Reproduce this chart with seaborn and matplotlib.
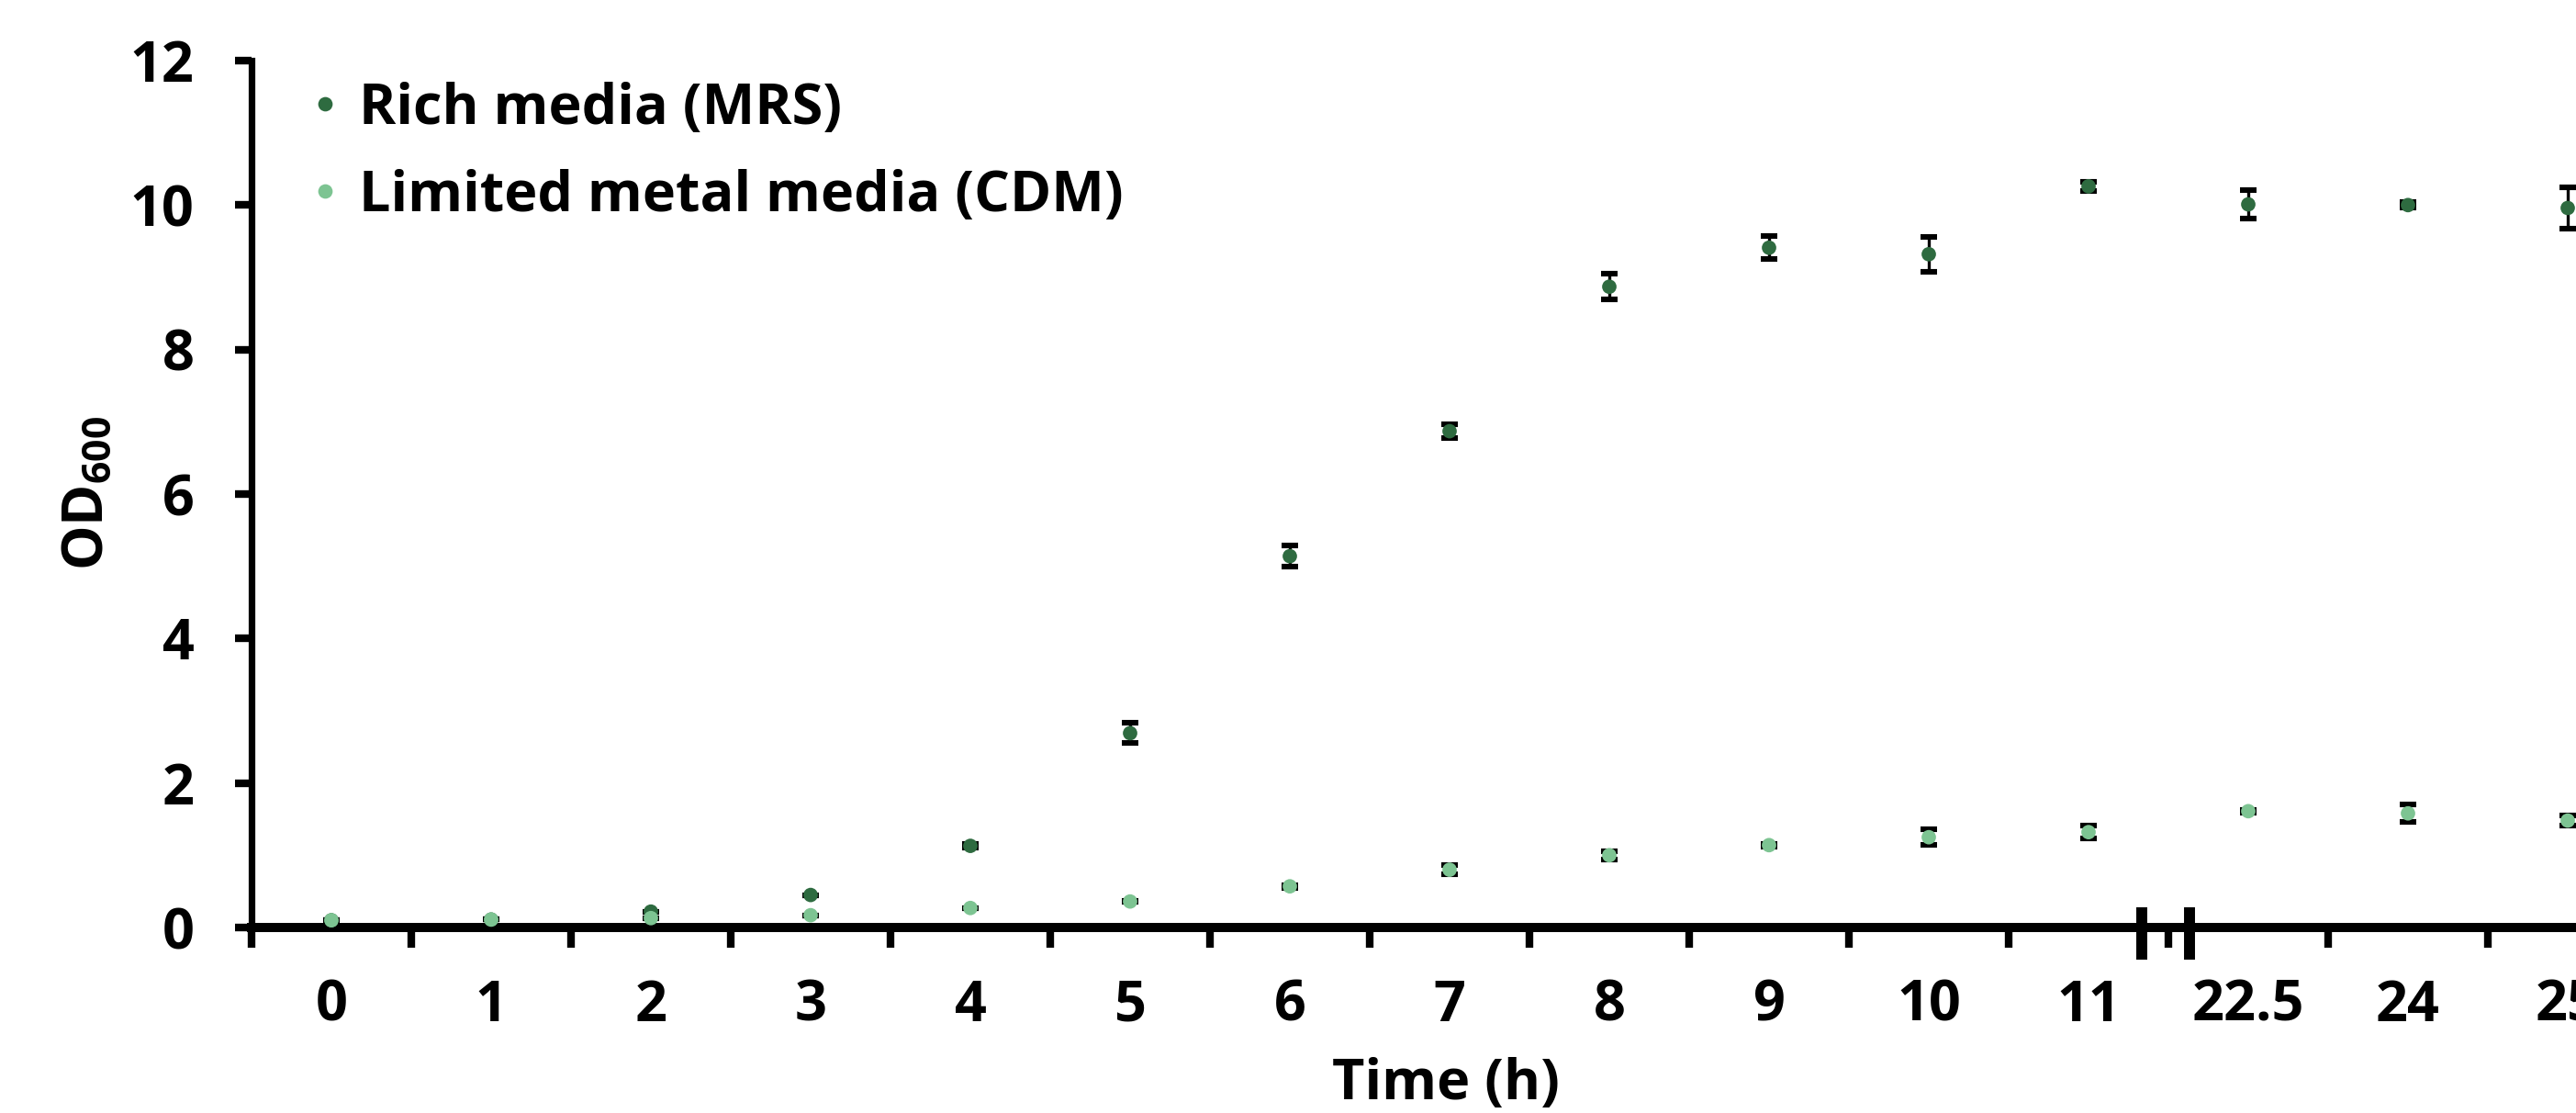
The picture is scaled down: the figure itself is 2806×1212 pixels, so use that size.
import numpy as np
import pandas as pd
import matplotlib
matplotlib.use("Agg")
import matplotlib.pyplot as plt
import matplotlib.transforms as mtransforms
import seaborn as sns

# ---------------- data ----------------
time_labels = ["0", "1", "2", "3", "4", "5", "6", "7", "8", "9", "10", "11", "22.5", "24", "25"]
mrs_mean = [0.10, 0.11, 0.22, 0.45, 1.13, 2.69, 5.14, 6.87, 8.87, 9.41, 9.32, 10.26, 10.01, 10.00, 9.96]
mrs_err = [0.0, 0.0, 0.0, 0.0, 0.03, 0.14, 0.15, 0.10, 0.18, 0.16, 0.24, 0.06, 0.20, 0.04, 0.28]
cdm_mean = [0.10, 0.11, 0.13, 0.17, 0.27, 0.36, 0.57, 0.80, 1.00, 1.14, 1.25, 1.32, 1.61, 1.58, 1.48]
cdm_err = [0.0, 0.0, 0.0, 0.0, 0.0, 0.01, 0.02, 0.06, 0.06, 0.02, 0.11, 0.09, 0.02, 0.12, 0.07]
series_names = ["Rich media (MRS)", "Limited metal media (CDM)"]
series_colors = ["#2e6b40", "#7dc492"]

# ---------------- style ----------------
sns.set_theme(style="white")
plt.rcParams["font.family"] = ["Open Sans", "DejaVu Sans"]
plt.rcParams["font.weight"] = "bold"
plt.rcParams["mathtext.fontset"] = "custom"
plt.rcParams["mathtext.rm"] = "Open Sans:bold"
plt.rcParams["mathtext.bf"] = "Open Sans:bold"

W, H, DPI = 2806, 1212, 200
fig = plt.figure(figsize=(W / DPI, H / DPI), dpi=DPI)
fs = 22

# axes geometry in pixels
left_px, y0_px, y12_px, step_px = 274, 1010, 66, 174
n = len(time_labels)
ax = fig.add_axes([left_px / W, (H - y0_px) / H, n * step_px / W, (y0_px - y12_px) / H])

x_pos = np.arange(n)
df = pd.DataFrame({
    "x": np.concatenate([x_pos, x_pos]),
    "od": mrs_mean + cdm_mean,
    "err": mrs_err + cdm_err,
    "media": [series_names[0]] * n + [series_names[1]] * n,
})

# error bars (under the markers)
for name in series_names:
    sub = df[df["media"] == name]
    ax.errorbar(sub["x"], sub["od"], yerr=sub["err"], fmt="none", ecolor="black",
                elinewidth=1.2, capsize=3.3, capthick=2.2, zorder=2)

sns.scatterplot(data=df, x="x", y="od", hue="media", palette=series_colors,
                hue_order=series_names, s=32, edgecolor="none", linewidth=0,
                ax=ax, zorder=3, legend=True)

ax.set_xlim(-0.5, n - 0.5)
ax.set_ylim(0, 12)
ax.set_yticks([0, 2, 4, 6, 8, 10, 12])
ax.set_xticks(x_pos)
ax.set_xticklabels(time_labels)
ax.set_xticks(np.arange(-0.5, n, 1.0), minor=True)

for s in ["top", "right"]:
    ax.spines[s].set_visible(False)
ax.spines["left"].set_linewidth(2.6)
ax.spines["bottom"].set_linewidth(3.6)
ax.spines["left"].set_color("black")
ax.spines["bottom"].set_color("black")

ax.tick_params(axis="x", which="major", length=0, pad=20, labelsize=fs, colors="black")
ax.tick_params(axis="x", which="minor", length=7.8, width=3.0, direction="out", color="black", bottom=True)
ax.tick_params(axis="y", which="major", length=6.5, width=3.0, direction="out", pad=16,
               labelsize=fs, colors="black", left=True)
for lab in ax.get_xticklabels() + ax.get_yticklabels():
    lab.set_fontweight("bold")

ax.set_xlabel("Time (h)", fontsize=fs, fontweight="bold", labelpad=8, color="black")
ax.set_ylabel(r"OD$_{600}$", fontsize=fs, fontweight="bold", labelpad=30, color="black")
ax.xaxis.set_label_coords((1575 - left_px) / (n * step_px), -(1181 - y0_px) / (y0_px - y12_px), transform=ax.transAxes)
ax.xaxis.label.set_va("center")
ax.yaxis.set_label_coords(-(left_px - 97) / (n * step_px), (y0_px - 537) / (y0_px - y12_px), transform=ax.transAxes)
ax.yaxis.label.set_va("center")

# axis break marks between 11 and 22.5
brk = mtransforms.blended_transform_factory(ax.transData, ax.transAxes)
b_lo = -(1045 - y0_px) / (y0_px - y12_px)
b_hi = (y0_px - 988) / (y0_px - y12_px)
for xb in (10.5 + 0.835, 10.5 + 1.13):
    ax.plot([xb, xb], [b_lo, b_hi], color="black", lw=4.3, transform=brk,
            clip_on=False, zorder=5, solid_capstyle="butt")

leg = ax.legend(loc="upper left", bbox_to_anchor=(0.005, 1.015), frameon=False,
                fontsize=fs, handletextpad=0.1, labelspacing=0.56, markerscale=1.0,
                borderaxespad=0.2, handlelength=1.0)
for t in leg.get_texts():
    t.set_fontweight("bold")
    t.set_color("black")

fig.savefig("out.png", dpi=DPI)
